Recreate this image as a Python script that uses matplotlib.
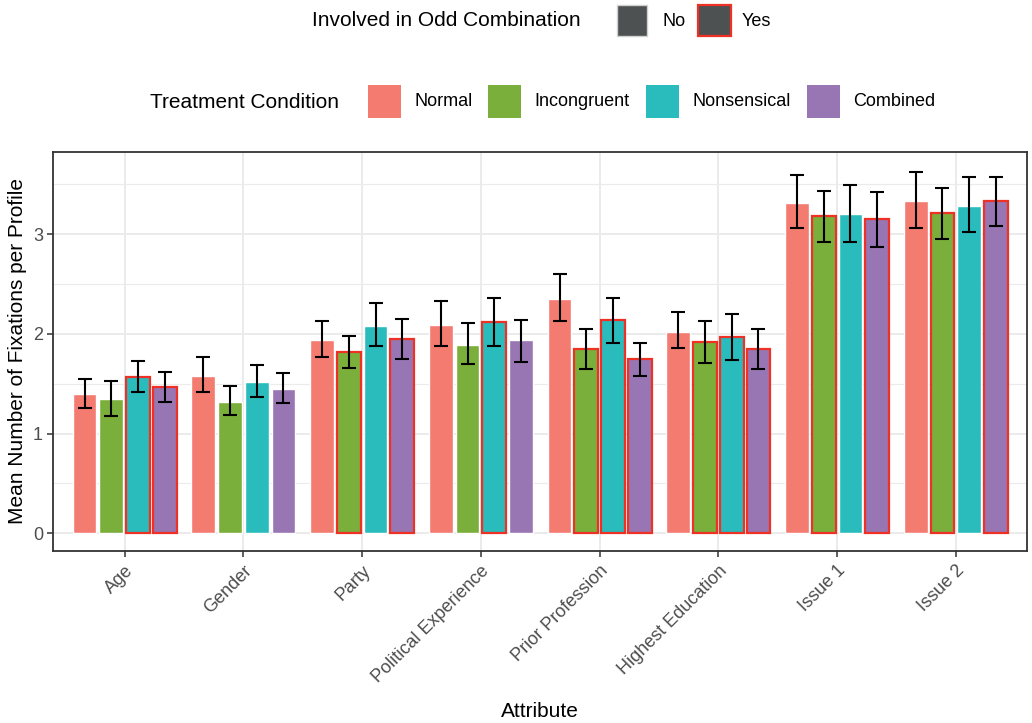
import numpy as np
import matplotlib
matplotlib.use('Agg')
import matplotlib.pyplot as plt
from matplotlib.patches import Rectangle

plt.rcParams['font.family'] = ['Liberation Sans', 'DejaVu Sans']

attributes = ['Age', 'Gender', 'Party', 'Political Experience', 'Prior Profession',
              'Highest Education', 'Issue 1', 'Issue 2']
conditions = ['Normal', 'Incongruent', 'Nonsensical', 'Combined']

# mean fixations per profile, one list per treatment condition
normal = [1.40, 1.58, 1.94, 2.09, 2.35, 2.02, 3.31, 3.33]
incongruent = [1.345, 1.32, 1.82, 1.89, 1.85, 1.92, 3.18, 3.21]
nonsensical = [1.57, 1.515, 2.08, 2.12, 2.14, 1.97, 3.20, 3.28]
combined = [1.47, 1.445, 1.95, 1.94, 1.745, 1.85, 3.15, 3.33]

# confidence interval bounds
normal_lo = [1.26, 1.42, 1.77, 1.88, 2.13, 1.855, 3.06, 3.06]
normal_hi = [1.55, 1.77, 2.13, 2.33, 2.60, 2.22, 3.59, 3.63]
incongruent_lo = [1.18, 1.19, 1.655, 1.70, 1.65, 1.71, 2.92, 2.95]
incongruent_hi = [1.53, 1.48, 1.98, 2.11, 2.05, 2.13, 3.43, 3.46]
nonsensical_lo = [1.42, 1.37, 1.88, 1.88, 1.91, 1.735, 2.925, 3.02]
nonsensical_hi = [1.73, 1.69, 2.31, 2.36, 2.365, 2.20, 3.49, 3.57]
combined_lo = [1.32, 1.31, 1.75, 1.72, 1.58, 1.65, 2.87, 3.08]
combined_hi = [1.62, 1.605, 2.15, 2.14, 1.91, 2.05, 3.42, 3.57]

# 1 = attribute involved in an odd combination for that condition
normal_odd = [0, 0, 0, 0, 0, 0, 0, 0]
incongruent_odd = [0, 0, 1, 0, 1, 1, 1, 1]
nonsensical_odd = [1, 0, 0, 1, 1, 1, 0, 0]
combined_odd = [1, 0, 1, 0, 1, 1, 1, 1]

means = [normal, incongruent, nonsensical, combined]
lows = [normal_lo, incongruent_lo, nonsensical_lo, combined_lo]
highs = [normal_hi, incongruent_hi, nonsensical_hi, combined_hi]
odds = [normal_odd, incongruent_odd, nonsensical_odd, combined_odd]

colors = ['#F37B70', '#7BAF3B', '#2ABCBC', '#9876B4']
odd_red = '#EE3124'
key_gray = '#4D5151'

fig = plt.figure(figsize=(10.32, 7.23), dpi=100)
ax = fig.add_axes([0.0518, 0.2379, 0.9434, 0.5519])

x = np.arange(1, len(attributes) + 1)
dodge = 0.9 / 4
bar_w = 0.2

for k in range(4):
    xs = x + (k - 1.5) * dodge
    m = np.array(means[k])
    for j in range(len(attributes)):
        if odds[k][j]:
            ax.bar(xs[j], m[j], width=bar_w, color=colors[k], edgecolor=odd_red,
                   linewidth=1.6, zorder=3)
        else:
            ax.bar(xs[j], m[j], width=bar_w, color=colors[k], edgecolor='white',
                   linewidth=1.0, zorder=2)
    yerr = [m - np.array(lows[k]), np.array(highs[k]) - m]
    ax.errorbar(xs, m, yerr=yerr, fmt='none', ecolor='black', elinewidth=1.5,
                capsize=4.8, capthick=1.5, zorder=4)

ax.set_xlim(0.4, 8.6)
ax.set_ylim(-0.178, 3.826)
ax.set_xticks(x)
ax.set_xticklabels(attributes, rotation=45, ha='right', va='top', rotation_mode='anchor')
ax.set_yticks([0, 1, 2, 3])
ax.set_yticks([0.5, 1.5, 2.5, 3.5], minor=True)
ax.tick_params(axis='both', which='major', labelsize=13, labelcolor='#4D4D4D',
               color='#333333', length=4, width=1.1)
ax.tick_params(axis='x', which='major', pad=4)
ax.tick_params(axis='y', which='minor', length=0)
ax.grid(True, which='major', color='#EBEBEB', linewidth=1.4, zorder=0)
ax.grid(True, which='minor', axis='y', color='#EBEBEB', linewidth=0.8, zorder=0)
ax.set_axisbelow(True)
for s in ax.spines.values():
    s.set_color('#333333')
    s.set_linewidth(1.3)

ax.set_xlabel('Attribute', fontsize=15, labelpad=12)
ax.set_ylabel('Mean Number of Fixations per Profile', fontsize=15, labelpad=4)

# legends drawn in pixel coordinates on an overlay
lg = fig.add_axes([0, 0, 1, 1], zorder=5)
lg.set_xlim(0, 1032)
lg.set_ylim(723, 0)
lg.axis('off')

lg.text(312, 21, 'Involved in Odd Combination', fontsize=15, ha='left', va='center')
lg.add_patch(Rectangle((617, 5), 30, 31, facecolor=key_gray, edgecolor='#D0D0D0', linewidth=1))
lg.text(662, 21, 'No', fontsize=13, ha='left', va='center')
lg.add_patch(Rectangle((698, 5), 33, 31, facecolor=key_gray, edgecolor=odd_red, linewidth=1.6))
lg.text(742, 21, 'Yes', fontsize=13, ha='left', va='center')

lg.text(150, 102, 'Treatment Condition', fontsize=15, ha='left', va='center')
key_x = [368, 488, 646, 807]
text_x = [415, 534, 693, 853]
for k in range(4):
    lg.add_patch(Rectangle((key_x[k], 85), 33, 33, facecolor=colors[k], edgecolor='none'))
    lg.text(text_x[k], 102, conditions[k], fontsize=13, ha='left', va='center')

plt.savefig('out.png', dpi=100)
